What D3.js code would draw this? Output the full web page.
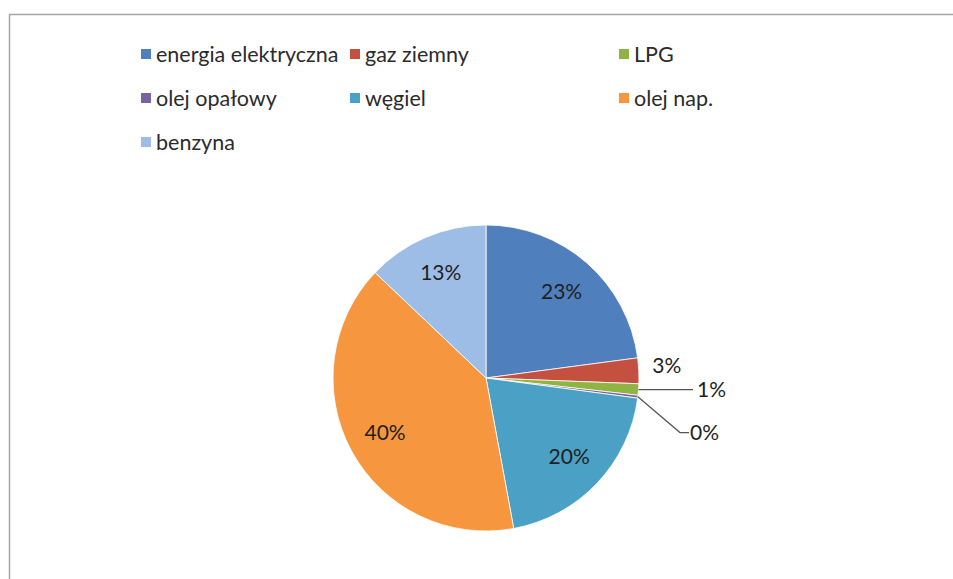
<!DOCTYPE html>
<html lang="pl">
<head>
    <meta charset="UTF-8">
    <title>Struktura zużycia energii</title>
    <script src="https://d3js.org/d3.v7.min.js"></script>
    <style>
        body { margin: 0; background: #fff; }
        svg { display: block; }
        text { font-family: Lato, "Open Sans", sans-serif; }
    </style>
</head>
<body>
<svg width="953" height="579"></svg>
<script>
    // dane (udział w %)
    const categories = ["energia elektryczna", "gaz ziemny", "LPG", "olej opałowy", "węgiel", "olej nap.", "benzyna"];
    const shares = [22.9, 2.7, 1.2, 0.3, 20.0, 40.0, 12.9];
    const colors = ["#4f7fbd", "#c4513f", "#8fb443", "#7d62a0", "#4ba0c6", "#f6963f", "#9ebde6"];

    const svg = d3.select("svg");

    // ramka wykresu
    svg.append("path")
        .attr("d", "M9.5,579 V14.5 H953")
        .attr("fill", "none")
        .attr("stroke", "#a4a4a4")
        .attr("stroke-width", 1.5);

    // legenda: 3 kolumny
    const legendCols = [141, 350, 619];
    const legendRows = [54, 98, 142];
    const legend = svg.append("g");
    categories.forEach((c, i) => {
        const x = legendCols[i % 3];
        const y = legendRows[Math.floor(i / 3)];
        legend.append("rect")
            .attr("x", x).attr("y", y - 5)
            .attr("width", 10).attr("height", 10)
            .attr("fill", colors[i]);
        legend.append("text")
            .attr("x", x + 15).attr("y", y)
            .attr("dy", "0.35em")
            .attr("font-size", 21.5)
            .attr("fill", "#2b2b2b")
            .text(c);
    });

    // wykres kołowy
    const cx = 486, cy = 378, r = 153;
    const pie = d3.pie().sort(null).value(d => d)(shares);
    const arc = d3.arc().innerRadius(0).outerRadius(r);
    const total = d3.sum(shares);

    const g = svg.append("g").attr("transform", `translate(${cx},${cy})`);

    g.selectAll("path.slice")
        .data(pie)
        .enter()
        .append("path")
        .attr("class", "slice")
        .attr("d", arc)
        .attr("fill", (d, i) => colors[i])
        .attr("stroke", "#fff")
        .attr("stroke-width", 0.8);

    const pct = v => Math.round(v / total * 100) + "%";
    const mid = d => (d.startAngle + d.endAngle) / 2;
    const labelSize = 21;

    // etykiety wewnątrz / na zewnątrz
    const small = [];
    pie.forEach((d, i) => {
        const a = mid(d);
        const share = d.value / total * 100;
        if (share >= 5) {
            const rr = r * 0.75;
            g.append("text")
                .attr("x", rr * Math.sin(a)).attr("y", -rr * Math.cos(a))
                .attr("text-anchor", "middle").attr("dy", "0.35em")
                .attr("font-size", labelSize).attr("fill", "#1f1f1f")
                .text(pct(d.value));
        } else if (share >= 2) {
            const rr = r + 28;
            g.append("text")
                .attr("x", rr * Math.sin(a)).attr("y", -rr * Math.cos(a) - 4)
                .attr("text-anchor", "middle").attr("dy", "0.35em")
                .attr("font-size", labelSize).attr("fill", "#1f1f1f")
                .text(pct(d.value));
        } else {
            small.push(d);
        }
    });

    // małe udziały z liniami odniesienia
    small.forEach((d, k) => {
        const a = mid(d);
        const ex = r * Math.sin(a), ey = -r * Math.cos(a);
        const ly = -r * Math.cos(mid(small[0])) + k * 43;
        const lineEnd = r + 54;
        const pts = k === 0 ? [[ex, ey], [lineEnd, ly]] : [[ex, ey], [r + 41, ly], [r + 50, ly]];
        g.append("path")
            .attr("d", d3.line()(pts))
            .attr("fill", "none")
            .attr("stroke", "#555")
            .attr("stroke-width", 1.2);
        g.append("text")
            .attr("x", (k === 0 ? lineEnd + 4 : r + 51)).attr("y", ly)
            .attr("dy", "0.35em")
            .attr("font-size", labelSize).attr("fill", "#1f1f1f")
            .text(pct(d.value));
    });
</script>
</body>
</html>
